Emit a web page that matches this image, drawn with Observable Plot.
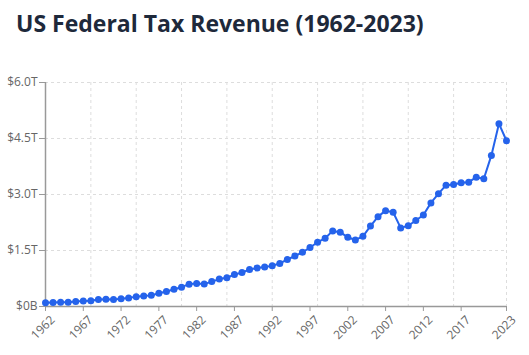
<!DOCTYPE html>
<html>
<head>
<meta charset="utf-8">
<script src="https://cdn.jsdelivr.net/npm/d3@7"></script>
<script src="https://cdn.jsdelivr.net/npm/@observablehq/plot@0.6"></script>
<style>
  html, body { margin: 0; padding: 0; background: #fff; }
  #title { height: 50px; box-sizing: border-box; padding: 8px 0 0 16px; font-family: "Open Sans", sans-serif; font-weight: 700; font-size: 23px; color: #1e293b; line-height: 30px; white-space: nowrap; }
  #chart svg { display: block; }
</style>
</head>
<body>
<div id="title">US Federal Tax Revenue (1962-2023)</div>
<div id="chart"></div>
<script>
const years = d3.range(1962, 2024);
const revenueBillions = [
  99.7, 106.6, 112.6, 116.8, 130.8, 148.8, 153.0, 186.9, 192.8, 187.1,
  207.3, 230.8, 263.2, 279.1, 298.1, 355.6, 399.6, 463.3, 517.1, 599.3,
  617.8, 600.6, 666.4, 734.0, 769.2, 854.3, 909.2, 991.1, 1032.0, 1055.0,
  1091.2, 1154.3, 1258.6, 1351.8, 1453.1, 1579.2, 1721.7, 1827.5, 2025.2, 1991.1,
  1853.1, 1782.3, 1880.1, 2153.6, 2406.9, 2568.0, 2524.0, 2105.0, 2162.7, 2303.5,
  2450.0, 2775.1, 3021.5, 3249.9, 3268.0, 3316.2, 3329.9, 3463.4, 3421.2, 4047.1,
  4897.4, 4439.3
];
const xTicks = [1962, 1967, 1972, 1977, 1982, 1987, 1992, 1997, 2002, 2007, 2012, 2017, 2023];
const xGrid = [1968, 1974, 1980, 1986, 1992, 1998, 2004, 2010, 2016, 2023];
const yTicks = [0, 1500, 3000, 4500, 6000];
const yGrid = [1500, 3000, 4500, 6000];

const data = years.map((y, i) => ({year: y, value: revenueBillions[i]}));
const fmtY = v => v === 0 ? "$0B" : "$" + (v / 1000).toFixed(1) + "T";

const chart = Plot.plot({
  width: 529,
  height: 305,
  marginTop: 32,
  marginBottom: 49,
  marginLeft: 45,
  marginRight: 23,
  style: { fontFamily: "'Open Sans', sans-serif", fontSize: "12px", color: "#666", background: "#fff" },
  x: { domain: [1962, 2023], label: null },
  y: { domain: [0, 6000], label: null },
  marks: [
    Plot.ruleY(yGrid, { stroke: "#ddd", strokeDasharray: "3,3", strokeWidth: 1 }),
    Plot.ruleX(xGrid, { stroke: "#ddd", strokeDasharray: "3,3", strokeWidth: 1 }),
    Plot.axisY({ ticks: yTicks, tickFormat: fmtY, tickSize: 6, tickPadding: 2, stroke: "#999", fill: "#666" }),
    Plot.axisX({ ticks: xTicks, tickFormat: () => "", tickSize: 5, stroke: "#999" }),
    Plot.text(xTicks, { x: d => d, frameAnchor: "bottom", text: d => String(d), rotate: -45, textAnchor: "end", lineAnchor: "top", dx: 4, dy: 8, fill: "#666", fontSize: 12 }),
    Plot.ruleX([1962], { stroke: "#999", strokeWidth: 1.5 }),
    Plot.ruleY([0], { stroke: "#999", strokeWidth: 1.5 }),
    Plot.line(data, { x: "year", y: "value", stroke: "#2563eb", strokeWidth: 2 }),
    Plot.dot(data, { x: "year", y: "value", r: 3.5, fill: "#2563eb", stroke: "none" })
  ]
});
document.getElementById("chart").appendChild(chart);
</script>
</body>
</html>
